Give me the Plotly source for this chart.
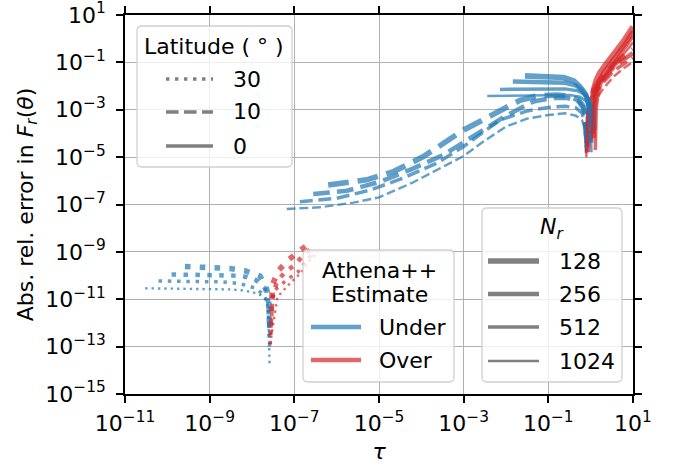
import plotly.graph_objects as go

# ---------------- data ----------------
X_TICK_VALS = [1e-11, 1e-9, 1e-7, 1e-5, 1e-3, 1e-1, 1e1]
X_TICK_TEXT = ["10<sup>−11</sup>", "10<sup>−9</sup>", "10<sup>−7</sup>", "10<sup>−5</sup>",
               "10<sup>−3</sup>", "10<sup>−1</sup>", "10<sup>1</sup>"]
Y_TICK_VALS = [1e1, 1e-1, 1e-3, 1e-5, 1e-7, 1e-9, 1e-11, 1e-13, 1e-15]
Y_TICK_TEXT = ["10<sup>1</sup>", "10<sup>−1</sup>", "10<sup>−3</sup>", "10<sup>−5</sup>",
               "10<sup>−7</sup>", "10<sup>−9</sup>", "10<sup>−11</sup>", "10<sup>−13</sup>",
               "10<sup>−15</sup>"]

LATITUDES = [30, 10, 0]
NR_VALUES = [128, 256, 512, 1024]

# Latitude 30 deg (dotted)
L30_N128_UNDER_TAU = [2.6e-10, 1.2e-9, 3.0e-9, 6.8e-9, 1.55e-8, 2.2e-8, 2.5e-8, 2.6e-8]
L30_N128_UNDER_ERR = [2.4e-10, 2.3e-10, 2.0e-10, 1.6e-10, 9.5e-11, 2.9e-11, 8e-12, 5e-13]
L30_N256_UNDER_TAU = [1.26e-10, 1e-9, 3.4e-9, 7e-9, 1.26e-8, 2.0e-8, 2.4e-8, 2.6e-8]
L30_N256_UNDER_ERR = [1.12e-10, 1.08e-10, 1.0e-10, 8.9e-11, 6.3e-11, 2.9e-11, 1e-11, 3e-13]
L30_N512_UNDER_TAU = [6.2e-11, 5e-10, 2e-9, 5.2e-9, 1.17e-8, 1.86e-8, 2.3e-8, 2.5e-8, 2.6e-8]
L30_N512_UNDER_ERR = [5.9e-11, 5.7e-11, 5.4e-11, 4.6e-11, 3.0e-11, 1.6e-11, 8e-12, 2e-12, 1e-13]
L30_N1024_UNDER_TAU = [3.0e-11, 3.2e-10, 3.2e-9, 6.3e-9, 1.1e-8, 1.6e-8, 2.0e-8, 2.3e-8, 2.45e-8, 2.6e-8]
L30_N1024_UNDER_ERR = [2.9e-11, 2.8e-11, 2.6e-11, 2.35e-11, 1.9e-11, 1.5e-11, 1.1e-11, 6.3e-12, 1.6e-12, 1.6e-14]

L30_N128_OVER_TAU = [2.63e-8, 2.82e-8, 3.1e-8, 4.2e-8, 7.6e-8, 1.41e-7, 2.5e-7]
L30_N128_OVER_ERR = [6.3e-13, 1.26e-11, 4.5e-11, 1.62e-10, 4.9e-10, 1.2e-9, 2.5e-9]
L30_N256_OVER_TAU = [2.69e-8, 3.0e-8, 3.8e-8, 6.0e-8, 1.05e-7, 1.62e-7, 2.5e-7]
L30_N256_OVER_ERR = [3.2e-13, 1e-11, 5e-11, 1.45e-10, 2.8e-10, 7.4e-10, 1.4e-9]
L30_N512_OVER_TAU = [2.69e-8, 3.16e-8, 6.6e-8, 1.23e-7, 1.95e-7, 2.8e-7]
L30_N512_OVER_ERR = [1.26e-13, 2.1e-11, 6.5e-11, 1.45e-10, 4.6e-10, 8.9e-10]
L30_N1024_OVER_TAU = [2.69e-8, 3.98e-8, 7.9e-8, 1.48e-7, 2.34e-7, 3.16e-7]
L30_N1024_OVER_ERR = [1.26e-13, 1.26e-11, 4.7e-11, 1.38e-10, 4.6e-10, 7.9e-10]

# Latitude 10 deg (dashed)
L10_N128_UNDER_TAU = [6.3e-7, 5.1e-6, 2.2e-5, 1.12e-4, 1e-3, 6.0e-3, 2.14e-2, 5.2e-2, 0.158, 0.316, 0.525, 0.69, 0.776, 0.83]
L10_N128_UNDER_ERR = [6.6e-7, 1.1e-6, 2.45e-6, 1.05e-5, 1.41e-4, 7.9e-4, 2.5e-3, 3.8e-3, 4.2e-3, 3.8e-3, 2.5e-3, 1.26e-3, 3.2e-4, 2.5e-5]
L10_N256_UNDER_TAU = [2.8e-7, 1.74e-6, 1.05e-5, 5.4e-5, 3.3e-4, 1.58e-3, 1e-2, 4.5e-2, 0.126, 0.28, 0.5, 0.66, 0.76, 0.81]
L10_N256_UNDER_ERR = [2.75e-7, 3.8e-7, 9.1e-7, 2.9e-6, 1.23e-5, 7.1e-5, 5.6e-4, 2.24e-3, 3.16e-3, 3.16e-3, 2.4e-3, 1.26e-3, 4e-4, 3.2e-5]
L10_N512_UNDER_TAU = [1.35e-7, 1e-6, 6.3e-6, 3.7e-5, 2.3e-4, 1e-3, 7.2e-3, 3.16e-2, 0.1, 0.25, 0.45, 0.63, 0.72, 0.79]
L10_N512_UNDER_ERR = [1.32e-7, 1.82e-7, 4.1e-7, 1.29e-6, 5.5e-6, 2.8e-5, 3.7e-4, 8.9e-4, 1.26e-3, 1.41e-3, 1.2e-3, 7.1e-4, 2.5e-4, 2.5e-5]
L10_N1024_UNDER_TAU = [6.6e-8, 4e-7, 2.5e-6, 1e-5, 6.3e-5, 4e-4, 1e-3, 3.16e-3, 1e-2, 3.16e-2, 0.1, 0.25, 0.45, 0.63, 0.72, 0.78]
L10_N1024_UNDER_ERR = [6.5e-8, 7.6e-8, 1.2e-7, 2e-7, 8.5e-7, 4.7e-6, 1.12e-5, 5e-5, 1.95e-4, 4.2e-4, 6e-4, 7.1e-4, 5.6e-4, 3.5e-4, 1.58e-4, 1.05e-5]

L10_N128_OVER_TAU = [0.85, 0.89, 1.0, 1.2, 1.58, 2.4, 4.0, 6.6, 10]
L10_N128_OVER_ERR = [1.6e-5, 5e-4, 2.5e-3, 7.1e-3, 1.58e-2, 4e-2, 0.1, 0.2, 0.355]
L10_N256_OVER_TAU = [0.83, 0.87, 0.98, 1.15, 1.48, 2.24, 3.7, 6.3, 10]
L10_N256_OVER_ERR = [2.5e-5, 5e-4, 2e-3, 4.5e-3, 1e-2, 2.5e-2, 7.1e-2, 0.141, 0.25]
L10_N512_OVER_TAU = [0.81, 0.85, 0.95, 1.12, 1.41, 2.1, 3.55, 6.0, 10]
L10_N512_OVER_ERR = [1.6e-5, 4e-4, 1.58e-3, 3.16e-3, 6.3e-3, 1.58e-2, 4.5e-2, 8.9e-2, 0.158]
L10_N1024_OVER_TAU = [0.79, 0.83, 0.93, 1.15, 1.38, 2.0, 3.47, 6.0, 10]
L10_N1024_OVER_ERR = [1e-5, 2.5e-4, 1e-3, 1.78e-3, 2.8e-3, 7.9e-3, 2.5e-2, 5.6e-2, 0.107]

# Latitude 0 deg (solid)
L0_N128_UNDER_TAU = [2.8e-2, 0.1, 0.23, 0.4, 0.56, 0.76, 0.89, 0.98, 1.0]
L0_N128_UNDER_ERR = [2.7e-2, 2.6e-2, 2.3e-2, 1.66e-2, 9.3e-3, 4.5e-3, 1.86e-3, 5e-4, 4e-5]
L0_N256_UNDER_TAU = [1.45e-2, 0.1, 0.25, 0.45, 0.63, 0.83, 1.0, 1.1, 1.15]
L0_N256_UNDER_ERR = [1.55e-2, 1.5e-2, 1.38e-2, 1.05e-2, 6.6e-3, 3.16e-3, 1.26e-3, 4e-4, 1e-4]
L0_N512_UNDER_TAU = [7.2e-3, 0.1, 0.25, 0.5, 0.79, 1.07, 1.2, 1.26]
L0_N512_UNDER_ERR = [7.2e-3, 7.6e-3, 7.6e-3, 6.3e-3, 4e-3, 1.78e-3, 6.3e-4, 1.41e-4]
L0_N1024_UNDER_TAU = [3.6e-3, 0.1, 0.316, 0.56, 0.79, 0.93, 1.0, 1.05]
L0_N1024_UNDER_ERR = [3.8e-3, 4e-3, 4.2e-3, 3.55e-3, 2.24e-3, 1e-3, 2.5e-4, 1.6e-5]

L0_N128_OVER_TAU = [1.02, 1.07, 1.17, 1.35, 1.66, 2.34, 3.63, 5.9, 10]
L0_N128_OVER_ERR = [1e-4, 1.58e-3, 7.1e-3, 1.78e-2, 3.8e-2, 8.9e-2, 0.24, 0.76, 3.16]
L0_N256_OVER_TAU = [1.17, 1.23, 1.35, 1.58, 2.0, 2.82, 4.27, 6.6, 10]
L0_N256_OVER_ERR = [6.3e-5, 1.26e-3, 5.6e-3, 1.58e-2, 3.55e-2, 8.9e-2, 0.224, 0.63, 2.0]
L0_N512_OVER_TAU = [1.29, 1.35, 1.48, 1.74, 2.19, 3.16, 4.68, 7.08, 10]
L0_N512_OVER_ERR = [2e-5, 1e-3, 4.5e-3, 1.26e-2, 2.8e-2, 7.1e-2, 0.178, 0.5, 1.26]
L0_N1024_OVER_TAU = [1.07, 1.12, 1.26, 1.51, 2.0, 2.95, 4.57, 7.08, 10]
L0_N1024_OVER_ERR = [5e-5, 1e-3, 4.5e-3, 1.12e-2, 2.24e-2, 5e-2, 0.126, 0.316, 0.71]

CURVES = [
    (30, 128, L30_N128_UNDER_TAU, L30_N128_UNDER_ERR, L30_N128_OVER_TAU, L30_N128_OVER_ERR),
    (30, 256, L30_N256_UNDER_TAU, L30_N256_UNDER_ERR, L30_N256_OVER_TAU, L30_N256_OVER_ERR),
    (30, 512, L30_N512_UNDER_TAU, L30_N512_UNDER_ERR, L30_N512_OVER_TAU, L30_N512_OVER_ERR),
    (30, 1024, L30_N1024_UNDER_TAU, L30_N1024_UNDER_ERR, L30_N1024_OVER_TAU, L30_N1024_OVER_ERR),
    (10, 128, L10_N128_UNDER_TAU, L10_N128_UNDER_ERR, L10_N128_OVER_TAU, L10_N128_OVER_ERR),
    (10, 256, L10_N256_UNDER_TAU, L10_N256_UNDER_ERR, L10_N256_OVER_TAU, L10_N256_OVER_ERR),
    (10, 512, L10_N512_UNDER_TAU, L10_N512_UNDER_ERR, L10_N512_OVER_TAU, L10_N512_OVER_ERR),
    (10, 1024, L10_N1024_UNDER_TAU, L10_N1024_UNDER_ERR, L10_N1024_OVER_TAU, L10_N1024_OVER_ERR),
    (0, 128, L0_N128_UNDER_TAU, L0_N128_UNDER_ERR, L0_N128_OVER_TAU, L0_N128_OVER_ERR),
    (0, 256, L0_N256_UNDER_TAU, L0_N256_UNDER_ERR, L0_N256_OVER_TAU, L0_N256_OVER_ERR),
    (0, 512, L0_N512_UNDER_TAU, L0_N512_UNDER_ERR, L0_N512_OVER_TAU, L0_N512_OVER_ERR),
    (0, 1024, L0_N1024_UNDER_TAU, L0_N1024_UNDER_ERR, L0_N1024_OVER_TAU, L0_N1024_OVER_ERR),
]

# ---------------- styles ----------------
W, H = 678, 464
PL, PR, PT, PB = 125, 633, 15, 394          # plot area in pixels
FONT = "DejaVu Sans"
FS = 22
BLUE = "rgba(31,119,180,0.7)"
RED = "rgba(214,39,40,0.7)"
GRAY = "#808080"
WIDTHS = {128: 5.6, 256: 4.5, 512: 3.5, 1024: 2.4}
LAT_STYLE = {30: "dot", 10: "dash", 0: "solid"}


def dash_for(style, w):
    if style == "dot":
        return f"{w:.2f}px,{1.65 * w:.2f}px"
    if style == "dash":
        return f"{3.7 * w:.2f}px,{1.6 * w:.2f}px"
    return "solid"


def px(X):
    return (X - PL) / (PR - PL)


def py(Y):
    return (PB - Y) / (PB - PT)


fig = go.Figure()
for lat, nr, ut, ue, ot, oe in CURVES:
    w = WIDTHS[nr]
    d = dash_for(LAT_STYLE[lat], w)
    fig.add_trace(go.Scatter(x=ut, y=ue, mode="lines", showlegend=False, hoverinfo="skip",
                             line=dict(color=BLUE, width=w, dash=d)))
    fig.add_trace(go.Scatter(x=ot, y=oe, mode="lines", showlegend=False, hoverinfo="skip",
                             line=dict(color=RED, width=w, dash=d)))

shapes = []
annotations = []


def rbox(x0, y0, x1, y1, r=5):
    p = (f"M {px(x0 + r)},{py(y0)} L {px(x1 - r)},{py(y0)} "
         f"Q {px(x1)},{py(y0)} {px(x1)},{py(y0 + r)} L {px(x1)},{py(y1 - r)} "
         f"Q {px(x1)},{py(y1)} {px(x1 - r)},{py(y1)} L {px(x0 + r)},{py(y1)} "
         f"Q {px(x0)},{py(y1)} {px(x0)},{py(y1 - r)} L {px(x0)},{py(y0 + r)} "
         f"Q {px(x0)},{py(y0)} {px(x0 + r)},{py(y0)} Z")
    shapes.append(dict(type="path", path=p, xref="paper", yref="paper", layer="above",
                       fillcolor="rgba(255,255,255,0.8)",
                       line=dict(color="rgba(204,204,204,0.9)", width=1.3)))


def sample(x0, x1, y, color, width, dash="solid"):
    shapes.append(dict(type="line", xref="paper", yref="paper", layer="above",
                       x0=px(x0), x1=px(x1), y0=py(y), y1=py(y),
                       line=dict(color=color, width=width, dash=dash)))


def label(x, y, text, anchor="left"):
    annotations.append(dict(x=px(x), y=py(y), xref="paper", yref="paper", text=text,
                            showarrow=False, xanchor=anchor, yanchor="middle",
                            font=dict(family=FONT, size=FS, color="black")))


# Latitude legend
rbox(137, 26, 292, 167)
label(214, 46, "Latitude ( ° )", "center")
for lat, yy in zip(LATITUDES, [79, 112, 146]):
    sample(166, 213, yy, GRAY, 3.4, dash_for(LAT_STYLE[lat], 3.4))
    label(231, yy, str(lat))

# Athena++ estimate legend
rbox(303, 250, 454, 382)
label(379, 270, "Athena++", "center")
label(379, 294, "Estimate", "center")
sample(311, 361, 327, BLUE, 4.5)
label(377, 327, "Under")
sample(311, 361, 360, RED, 4.5)
label(377, 360, "Over")

# N_r legend
rbox(482, 208, 622, 382)
label(552, 228, "<i>N</i><sub><i>r</i></sub>", "center")
for nr, yy in zip(NR_VALUES, [261, 294, 327, 361]):
    sample(488, 539, yy, GRAY, WIDTHS[nr])
    label(557, yy, str(nr))

axis_common = dict(
    type="log", showline=True, linecolor="black", linewidth=1.6, mirror="ticks",
    ticks="outside", ticklen=7, tickwidth=1.5, tickcolor="black",
    showgrid=True, gridcolor="#b0b0b0", gridwidth=1.3, zeroline=False,
    automargin=False, ticklabeloverflow="allow",
    tickfont=dict(family=FONT, size=FS, color="black"),
)

fig.update_layout(
    width=W, height=H,
    margin=dict(l=PL, r=W - PR, t=PT, b=H - PB),
    paper_bgcolor="white", plot_bgcolor="white",
    font=dict(family=FONT, size=FS, color="black"),
    xaxis=dict(range=[-11, 1], tickmode="array", tickvals=X_TICK_VALS, ticktext=X_TICK_TEXT,
               ticklabelstandoff=2,
               title=dict(text="<i>τ</i>", standoff=18, font=dict(family=FONT, size=FS)),
               **axis_common),
    yaxis=dict(range=[-15, 1], tickmode="array", tickvals=Y_TICK_VALS, ticktext=Y_TICK_TEXT,
               ticklabelstandoff=6,
               title=dict(text="Abs. rel. error in <i>F<sub>r</sub></i>(<i>θ</i>)", standoff=6,
                          font=dict(family=FONT, size=FS)),
               **axis_common),
    shapes=shapes, annotations=annotations,
    showlegend=False,
)

fig.write_html("out.html")
